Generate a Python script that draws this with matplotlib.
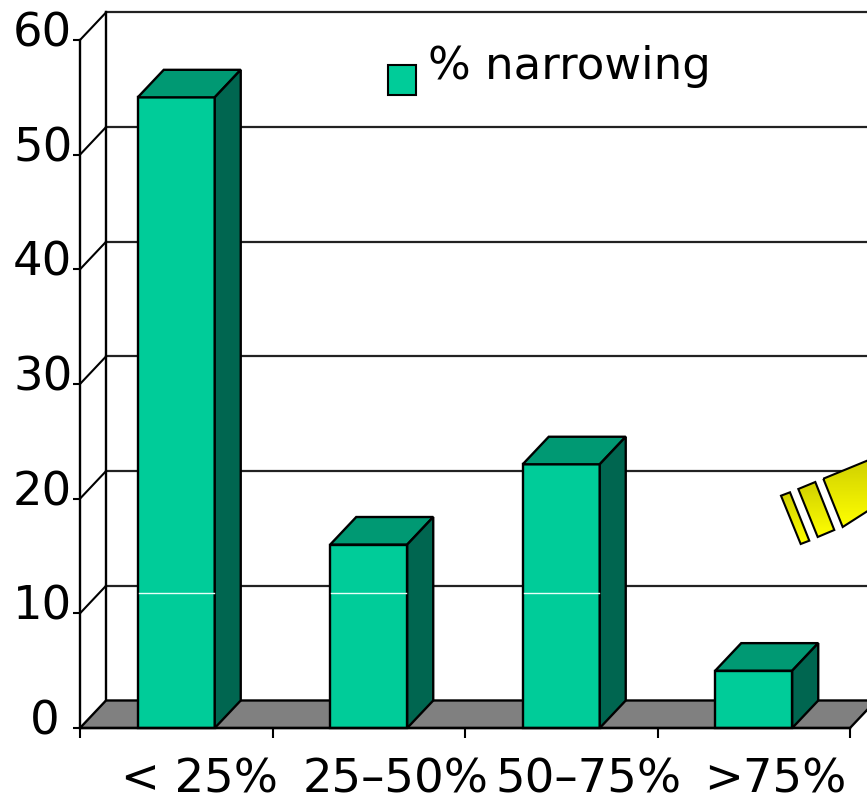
import matplotlib
matplotlib.use("Agg")
import matplotlib.pyplot as plt
import numpy as np
from matplotlib.colors import LinearSegmentedColormap
from matplotlib.patches import Polygon, Rectangle
from matplotlib.transforms import ScaledTranslation

categories = ["< 25%", "25–50%", "50–75%", ">75%"]
narrowing = [55, 16, 23, 5]
y_ticks = [0, 10, 20, 30, 40, 50, 60]
series_name = "% narrowing"

FRONT = "#00CC99"
TOP = "#009973"
SIDE = "#006650"
FLOOR = "#808080"

# depth of the fake 3D box, in data units
DX = 0.135
DY = 2.4
BAR_W = 0.4

plt.rcParams["font.family"] = "DejaVu Sans"

fig = plt.figure(figsize=(8.67, 7.95), dpi=100)
ax = fig.add_axes([80 / 867, 67 / 795, 770 / 867, 688 / 795])
ax.set_xlim(0, 4)
ax.set_ylim(0, 60)
ax.patch.set_visible(False)


def face(points, color, z, lw=1.7):
    ax.add_patch(Polygon(points, closed=True, facecolor=color, edgecolor="black",
                         linewidth=lw, clip_on=False, zorder=z, joinstyle="miter"))


# floor
face([(0, 0), (DX, DY), (4 + DX, DY), (4, 0)], FLOOR, 1)

# back wall gridlines and the diagonals on the left wall
for v in y_ticks[1:]:
    ax.plot([DX, 4 + DX], [v + DY, v + DY], color="#222222", lw=1.6, clip_on=False, zorder=1.5)
    ax.plot([0, DX], [v, v + DY], color="black", lw=1.5, clip_on=False, zorder=1.5)
ax.plot([DX, DX], [DY, 60 + DY], color="black", lw=1.7, clip_on=False, zorder=1.5)

# bars
for i, val in enumerate(narrowing):
    x0 = i + 0.3
    x1 = x0 + BAR_W
    face([(x0, 0), (x1, 0), (x1, val), (x0, val)], FRONT, 3)
    face([(x0, val), (x1, val), (x1 + DX, val + DY), (x0 + DX, val + DY)], TOP, 3)
    face([(x1, 0), (x1 + DX, DY), (x1 + DX, val + DY), (x1, val)], SIDE, 3)
    # thin highlight across the taller bars
    if val > 11.75:
        ax.plot([x0 + 0.005, x1 - 0.005], [11.75, 11.75], color="#e8fff8", lw=1, zorder=4)

for s in ["top", "right"]:
    ax.spines[s].set_visible(False)
for s in ["left", "bottom"]:
    ax.spines[s].set_linewidth(1.7)
    ax.spines[s].set_zorder(5)

ax.set_yticks(y_ticks)
ax.tick_params(axis="y", length=5, width=1.5, pad=0.5, labelsize=33.5)
for lab, v in zip(ax.get_yticklabels(), y_ticks):
    shift_x = -13 / 100 if v == 0 else 0
    lab.set_transform(lab.get_transform() + ScaledTranslation(shift_x, 11 / 100, fig.dpi_scale_trans))

ax.set_xticks(range(5))
ax.set_xticklabels([])
ax.tick_params(axis="x", which="major", length=7, width=1.5)
ax.set_xticks([0.623, 1.642, 2.642, 3.61], labels=categories, minor=True)
ax.tick_params(axis="x", which="minor", length=0, pad=21, labelsize=33.5)

# legend swatch and name
ax.add_patch(Rectangle((1.6, 55.2), 0.145, 2.62, facecolor=FRONT, edgecolor="black",
                       linewidth=1.5, zorder=5, clip_on=False))
ax.text(1.81, 56.6, series_name, fontsize=32.4, va="baseline", ha="left", zorder=5, clip_on=False)

# yellow pointer cut off by the right edge, drawn in pixel coordinates
over = fig.add_axes([0, 0, 1, 1])
over.patch.set_visible(False)
over.axis("off")
pointer = [
    [(781, 495.7), (790, 492.3), (809.3, 540.7), (800.7, 544)],
    [(798.3, 489), (815.3, 482), (834.3, 530), (817.7, 537)],
    [(823.3, 478.7), (870, 459.5), (870, 509.5), (842.7, 527)],
]
yellow = LinearSegmentedColormap.from_list("yellow", ["#d0d000", "#ffff00"])
grad = np.linspace(0, 1, 64).reshape(-1, 1)
for pts in pointer:
    xs = [p[0] for p in pts]
    ys = [p[1] for p in pts]
    im = over.imshow(grad, cmap=yellow, aspect="auto", zorder=6,
                     extent=(min(xs), max(xs), max(ys), min(ys)))
    patch = Polygon(pts, closed=True, facecolor="none", edgecolor="black", linewidth=1.5, zorder=7)
    over.add_patch(patch)
    im.set_clip_path(patch)
over.set_xlim(0, 867)
over.set_ylim(795, 0)

fig.savefig("out.png", dpi=100)
